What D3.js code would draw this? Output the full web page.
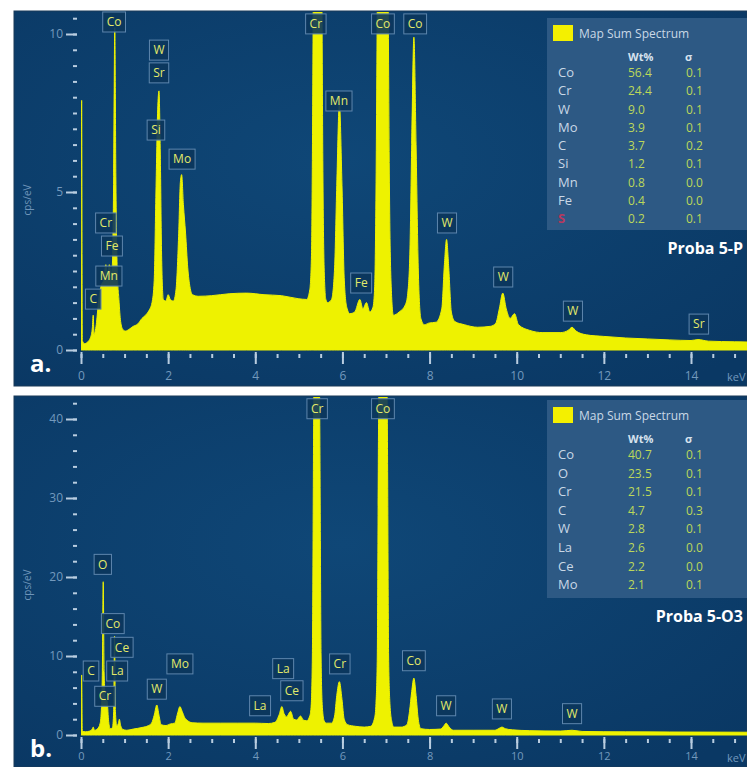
<!DOCTYPE html>
<html>
<head>
<meta charset="utf-8">
<script src="https://cdn.jsdelivr.net/npm/d3@7"></script>
<style>
body { margin: 0; background: #fff; }
svg { display: block; font-family: "Open Sans", "Noto Sans", sans-serif; }
</style>
</head>
<body>
<div class="canvas"></div>
<script>
// spectrum a (Proba 5-P): energy in keV, counts in cps/eV
const energyA = [0.00,0.015,0.03,0.08,0.15,0.22,0.26,0.28,0.30,0.35,0.40,0.44,0.48,0.52,0.57,0.61,0.65,0.69,0.72,0.75,0.775,0.80,0.83,0.87,0.91,0.96,1.02,1.10,1.20,1.30,1.40,1.48,1.56,1.63,1.68,1.72,1.76,1.79,1.82,1.85,1.89,1.95,2.00,2.05,2.12,2.18,2.24,2.28,2.31,2.35,2.40,2.45,2.50,2.56,2.70,3.00,3.40,3.80,4.20,4.60,5.00,5.18,5.25,5.29,5.31,5.33,5.42,5.53,5.55,5.58,5.62,5.66,5.75,5.82,5.87,5.93,5.99,6.04,6.10,6.17,6.28,6.40,6.47,6.55,6.63,6.70,6.74,6.77,6.80,6.93,7.05,7.08,7.12,7.17,7.30,7.45,7.50,7.55,7.59,7.64,7.69,7.74,7.80,7.88,7.98,8.15,8.28,8.34,8.39,8.44,8.50,8.58,8.80,9.10,9.40,9.52,9.60,9.68,9.76,9.85,9.95,10.04,10.30,10.60,11.00,11.18,11.27,11.36,11.60,12.00,12.50,13.00,13.50,14.00,14.16,14.40,15.00,15.40];
const cpsA = [0.1,7.9,0.3,0.2,0.25,0.4,0.7,1.1,0.5,0.8,1.5,1.9,2.1,2.2,2.7,2.3,2.7,2.4,2.7,5.5,10.2,5.5,2.6,1.6,0.9,0.65,0.6,0.65,0.75,0.82,1.0,1.1,1.25,1.5,2.2,5.0,7.6,8.2,6.2,3.0,1.6,1.55,1.75,1.6,1.55,1.9,3.6,5.3,5.55,4.6,3.7,2.6,2.0,1.75,1.7,1.72,1.78,1.8,1.75,1.72,1.62,1.6,1.9,3.0,6.0,11,30,11,6.0,2.6,1.6,1.5,1.6,2.6,5.2,7.8,5.2,2.3,1.35,1.15,1.2,1.6,1.3,1.5,1.2,1.35,2.0,5.0,11,30,11,5.0,2.0,1.1,1.2,1.45,1.8,3.2,6.5,9.9,6.5,2.6,1.0,0.8,0.85,0.88,1.3,2.7,3.5,2.6,1.2,0.9,0.8,0.72,0.75,0.85,1.3,1.8,1.3,1.0,1.15,0.8,0.62,0.55,0.55,0.62,0.72,0.6,0.48,0.43,0.38,0.35,0.32,0.3,0.33,0.28,0.26,0.25];

// spectrum b (Proba 5-O3)
const energyB = [0.00,0.015,0.03,0.10,0.20,0.26,0.28,0.31,0.38,0.44,0.47,0.49,0.51,0.53,0.56,0.60,0.63,0.67,0.72,0.75,0.77,0.79,0.82,0.86,0.88,0.91,0.96,1.05,1.20,1.40,1.55,1.62,1.68,1.74,1.79,1.84,1.95,2.05,2.15,2.22,2.27,2.32,2.38,2.45,2.55,2.80,3.20,3.60,4.00,4.30,4.45,4.55,4.61,4.66,4.72,4.81,4.88,4.95,5.04,5.10,5.18,5.25,5.28,5.31,5.34,5.41,5.48,5.51,5.54,5.58,5.63,5.75,5.82,5.87,5.93,5.99,6.04,6.12,6.30,6.50,6.65,6.74,6.77,6.80,6.83,6.93,7.03,7.06,7.09,7.13,7.18,7.35,7.48,7.54,7.59,7.64,7.69,7.74,7.80,8.00,8.25,8.32,8.38,8.45,8.55,9.00,9.50,9.60,9.66,9.74,9.90,10.30,11.00,11.27,11.50,12.50,13.50,15.40];
const cpsB = [0.3,7.6,0.5,0.4,0.5,0.8,1.0,0.6,0.8,1.5,3.5,8,19.4,8,4.6,4.3,2.0,0.8,0.9,3.0,12.5,3.0,1.2,1.5,2.0,1.2,0.7,0.6,0.75,0.95,1.2,1.5,2.5,3.8,2.5,1.3,1.2,1.4,1.5,2.8,3.6,3.0,2.2,1.8,1.55,1.5,1.5,1.5,1.5,1.45,1.6,2.6,3.6,2.7,2.3,3.0,2.0,1.9,2.4,1.9,1.8,2.4,3.5,10,40,70,40,10,3.5,1.8,1.5,1.5,2.4,5.0,6.75,4.5,2.0,1.3,1.1,1.0,1.1,2.2,4,10,40,70,40,10,4,1.8,1.0,1.0,1.3,3.0,5.5,7.2,5.0,2.0,0.8,0.7,0.75,1.1,1.5,1.0,0.6,0.6,0.6,0.85,1.0,0.8,0.65,0.55,0.5,0.6,0.45,0.4,0.38,0.35];

// peak labels (keV position, label height in cps/eV)
const peakNamesA = ["C","Mn","Fe","Cr","Co","Si","Sr","W","Mo","Cr","Mn","Fe","Co","Co","W","W","W","Sr"];
const peakKeVA = [0.28,0.64,0.71,0.57,0.76,1.72,1.79,1.79,2.32,5.39,5.92,6.43,6.93,7.67,8.40,9.69,11.29,14.18];
const peakCpsA = [1.61,2.34,3.29,4.02,10.38,6.96,8.77,9.49,6.04,10.32,7.88,2.12,10.32,10.32,4.02,2.31,1.23,0.82];

const peakNamesB = ["C","La","Cr","Ce","Co","O","W","Mo","La","La","Ce","Cr","Cr","Co","Co","W","W","W"];
const peakKeVB = [0.23,0.83,0.55,0.94,0.73,0.50,1.74,2.27,4.11,4.64,4.84,5.42,5.94,6.93,7.64,8.38,9.66,11.27];
const peakCpsB = [8.1,8.1,4.9,11.1,14.1,21.6,5.8,9.0,3.7,8.4,5.6,41.3,9.0,41.3,9.4,3.7,3.3,2.7];

// quantification tables
const elemsA = ["Co","Cr","W","Mo","C","Si","Mn","Fe","S"];
const wtA = ["56.4","24.4","9.0","3.9","3.7","1.2","0.8","0.4","0.2"];
const sigmaA = ["0.1","0.1","0.1","0.1","0.2","0.1","0.0","0.0","0.1"];

const elemsB = ["Co","O","Cr","C","W","La","Ce","Mo"];
const wtB = ["40.7","23.5","21.5","4.7","2.8","2.6","2.2","2.1"];
const sigmaB = ["0.1","0.1","0.1","0.3","0.1","0.0","0.0","0.1"];

const xMajor = [0,2,4,6,8,10,12,14];

const W = 747, H = 767;

const svg = d3.select('.canvas')
.append('svg')
.attr('width', W)
.attr('height', H);

const defs = svg.append('defs');
const grad = defs.append('radialGradient').attr('id', 'bg')
.attr('cx', '45%').attr('cy', '40%').attr('r', '75%');
grad.append('stop').attr('offset', '0%').attr('stop-color', '#0f4777');
grad.append('stop').attr('offset', '100%').attr('stop-color', '#0a3864');

// shared energy scale
const x = d3.scaleLinear().domain([0, 14]).range([81, 691]);

const panels = [
  {id: 'a', letter: 'a.', top: 11, bottom: 386, base: 350, yMax: 10, yMaxPx: 34,
   yMajor: [0,5,10], yMinor: d3.range(0, 10.51, 0.5), tickPad: 7, tickFont: 12,
   energy: energyA, cps: cpsA, names: peakNamesA, kev: peakKeVA, lab: peakCpsA,
   elems: elemsA, wt: wtA, sigma: sigmaA, title: 'Proba 5-P',
   legTop: 18, legBottom: 230, rowStep: 18.25},
  {id: 'b', letter: 'b.', top: 396, bottom: 767, base: 735, yMax: 40, yMaxPx: 419,
   yMajor: [0,10,20,30,40], yMinor: d3.range(0, 42.1, 2), tickPad: 3, tickFont: 11,
   energy: energyB, cps: cpsB, names: peakNamesB, kev: peakKeVB, lab: peakCpsB,
   elems: elemsB, wt: wtB, sigma: sigmaB, title: 'Proba 5-O3',
   legTop: 400, legBottom: 598, rowStep: 18.6}
];

const drawPanel = (p) => {
  const y = d3.scaleLinear().domain([0, p.yMax]).range([p.base, p.yMaxPx]);
  const g = svg.append('g');

  // background
  g.append('rect')
  .attr('x', 14).attr('y', p.top)
  .attr('width', W - 14).attr('height', p.bottom - p.top)
  .attr('fill', 'url(#bg)')
  .attr('stroke', '#1b3a58');

  defs.append('clipPath').attr('id', 'clip-' + p.id)
  .append('rect')
  .attr('x', x(0)).attr('y', p.top + 1)
  .attr('width', W - x(0)).attr('height', p.base - p.top);

  // spectrum
  const pts = p.energy.map((e, i) => ({e: e, c: p.cps[i]}));
  const area = d3.area()
  .x(d => x(d.e))
  .y0(y(0))
  .y1(d => y(d.c))
  .curve(d3.curveMonotoneX);

  g.append('path')
  .datum(pts)
  .attr('clip-path', 'url(#clip-' + p.id + ')')
  .attr('fill', '#eef200')
  .attr('stroke', '#eef200')
  .attr('stroke-width', 1)
  .attr('d', area);

  // y axis
  const yMinorAxis = g.append('g')
  .attr('transform', 'translate(77,0)')
  .call(d3.axisLeft(y).tickValues(p.yMinor).tickSize(4).tickFormat(''));
  const yMajorAxis = g.append('g')
  .attr('transform', 'translate(77,0)')
  .call(d3.axisLeft(y).tickValues(p.yMajor).tickSize(11).tickPadding(3).tickFormat(d3.format('d')));

  // x axis
  const xMinorAxis = g.append('g')
  .attr('transform', `translate(0,${p.base + 4})`)
  .call(d3.axisBottom(x).tickValues(d3.range(0, 15.3, 0.5)).tickSize(4).tickFormat(''));
  const xMajorAxis = g.append('g')
  .attr('transform', `translate(0,${p.base + 2})`)
  .call(d3.axisBottom(x).tickValues(xMajor).tickSize(12).tickPadding(p.tickPad).tickFormat(d3.format('d')));

  [yMinorAxis, yMajorAxis, xMinorAxis, xMajorAxis].forEach(a => {
    a.select('.domain').remove();
    a.selectAll('line').attr('stroke', '#b9cde0').attr('stroke-width', 2);
    a.selectAll('text').attr('fill', '#7399bd').attr('font-size', 12).attr('font-family', '"Open Sans", sans-serif');
  });
  xMajorAxis.selectAll('text').attr('font-size', p.tickFont);

  g.append('text')
  .attr('x', 727).attr('y', p.base + 12 + p.tickPad + 12)
  .attr('fill', '#7399bd').attr('font-size', 11)
  .text('keV');

  g.append('text')
  .attr('transform', `translate(31,${(p.base + p.yMaxPx) / 2 + 8}) rotate(-90)`)
  .attr('text-anchor', 'middle')
  .attr('fill', '#6f95ba').attr('font-size', 10)
  .text('cps/eV');

  g.append('text')
  .attr('x', 30).attr('y', p.base + 22)
  .attr('fill', '#ffffff').attr('font-size', 24).attr('font-weight', 'bold')
  .text(p.letter);

  // peak labels
  const labels = g.selectAll('.peak')
  .data(p.names.map((n, i) => ({n: n, e: p.kev[i], c: p.lab[i]})))
  .enter()
  .append('g')
  .attr('class', 'peak')
  .attr('transform', d => `translate(${x(d.e)}, ${y(d.c)})`);

  const boxes = labels.append('rect');
  const texts = labels.append('text')
  .attr('text-anchor', 'middle')
  .attr('dy', '0.35em')
  .attr('fill', '#e2ea6a')
  .attr('font-size', 12)
  .text(d => d.n);

  texts.each(function(d) { d.w = this.getComputedTextLength(); });
  boxes
  .attr('x', d => -(d.w + 8) / 2)
  .attr('y', -10)
  .attr('width', d => d.w + 8)
  .attr('height', 20)
  .attr('fill', '#0b365c')
  .attr('fill-opacity', 0.9)
  .attr('stroke', '#5e86ad')
  .attr('stroke-width', 1);

  // quantification table
  const leg = g.append('g');
  leg.append('rect')
  .attr('x', 547).attr('y', p.legTop)
  .attr('width', W - 547).attr('height', p.legBottom - p.legTop)
  .attr('fill', '#2d5984');

  leg.append('rect')
  .attr('x', 553).attr('y', p.legTop + 7)
  .attr('width', 20).attr('height', 16)
  .attr('fill', '#f4f000');

  leg.append('text')
  .attr('x', 579).attr('y', p.legTop + 20)
  .attr('fill', '#c9d8e6').attr('font-size', 12)
  .text('Map Sum Spectrum');

  leg.append('text')
  .attr('x', 628).attr('y', p.legTop + 43)
  .attr('fill', '#d6e2ee').attr('font-size', 11).attr('font-weight', 'bold')
  .text('Wt%');

  leg.append('text')
  .attr('x', 685).attr('y', p.legTop + 43)
  .attr('fill', '#d6e2ee').attr('font-size', 11).attr('font-weight', 'bold')
  .text('σ');

  const rows = leg.selectAll('.row')
  .data(p.elems.map((el, i) => ({el: el, wt: p.wt[i], s: p.sigma[i], i: i})))
  .enter()
  .append('g')
  .attr('class', 'row')
  .attr('transform', d => `translate(0, ${p.legTop + 59 + d.i * p.rowStep})`);

  rows.append('text')
  .attr('x', 558)
  .attr('fill', d => d.el === 'S' ? '#b8385e' : '#c9d8e6')
  .attr('font-size', 13)
  .attr('font-weight', d => d.el === 'S' ? 'bold' : 'normal')
  .text(d => d.el);

  rows.append('text')
  .attr('x', 628)
  .attr('fill', '#bcd85a').attr('font-size', 12)
  .text(d => d.wt);

  rows.append('text')
  .attr('x', 686)
  .attr('fill', '#bcd85a').attr('font-size', 12)
  .text(d => d.s);

  g.append('text')
  .attr('x', 743).attr('y', p.legBottom + 24)
  .attr('text-anchor', 'end')
  .attr('fill', '#ffffff').attr('font-size', 16).attr('font-weight', 'bold')
  .text(p.title);
};

panels.forEach(drawPanel);
</script>
</body>
</html>
